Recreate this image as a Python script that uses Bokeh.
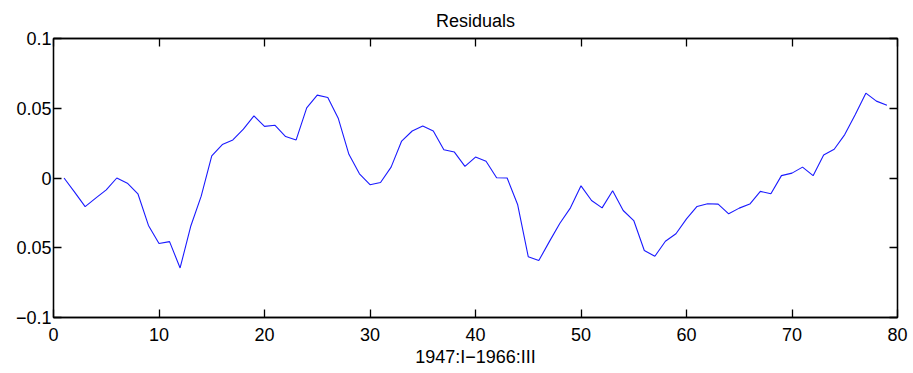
from bokeh.plotting import figure
from bokeh.models import Range1d, LinearAxis, FixedTicker
from bokeh.embed import file_html
from bokeh.resources import INLINE

quarters = list(range(1, 80))
residuals = [
    0.0, -0.0101, -0.0205, -0.0144, -0.0085, 0.0, -0.0037, -0.0113, -0.034, -0.047,
    -0.0456, -0.0645, -0.0348, -0.0130, 0.0158, 0.024, 0.0273, 0.035, 0.0445, 0.037,
    0.0378, 0.0297, 0.0273, 0.0503, 0.0594, 0.0577, 0.0426, 0.017, 0.003, -0.0048,
    -0.0032, 0.0078, 0.0265, 0.0337, 0.0373, 0.0337, 0.0203, 0.0186, 0.0083, 0.015,
    0.012, 0.0002, 0.0, -0.0192, -0.0564, -0.0592, -0.0456, -0.0324, -0.0214, -0.0056,
    -0.0161, -0.0214, -0.0092, -0.0233, -0.0305, -0.052, -0.0561, -0.0453, -0.040, -0.0293,
    -0.0204, -0.0185, -0.0187, -0.0257, -0.0216, -0.0187, -0.0096, -0.0113, 0.0017, 0.0035,
    0.0078, 0.0017, 0.0165, 0.0206, 0.0311, 0.0455, 0.0608, 0.0551, 0.0522,
]
x_ticks = [0, 10, 20, 30, 40, 50, 60, 70, 80]
y_ticks = [-0.1, -0.05, 0.0, 0.05, 0.1]
y_tick_labels = {-0.1: "\u22120.1", -0.05: "0.05", 0.0: "0", 0.05: "0.05", 0.1: "0.1"}
title_text = "Residuals"
x_label = "1947:I\u22121966:III"

FONT = "Liberation Sans"
FS = "18px"

p = figure(width=913, height=373, output_backend="svg", toolbar_location=None,
           x_range=Range1d(0, 80), y_range=Range1d(-0.1, 0.1),
           min_border_left=53, min_border_right=16, min_border_top=38, min_border_bottom=56,
           x_axis_location=None, y_axis_location=None)
p.title.text = title_text
p.title.align = "center"
p.title.text_font = FONT
p.title.text_font_size = FS
p.title.text_font_style = "normal"
p.title.text_color = "black"
p.title.standoff = 15
p.grid.visible = False
p.outline_line_color = "black"
p.outline_line_width = 1.3
p.background_fill_color = "white"
p.border_fill_color = "white"

p.line(quarters, residuals, line_color="#1a1aff", line_width=1.1)

def style(ax, labels=True):
    ax.axis_line_color = "black"
    ax.axis_line_width = 1.3
    ax.major_tick_in = 8
    ax.major_tick_out = 0
    ax.minor_tick_in = 0
    ax.minor_tick_out = 0
    ax.major_tick_line_color = "black"
    ax.major_tick_line_width = 1.3
    ax.major_label_text_font = FONT
    ax.major_label_text_color = "black"
    ax.axis_label_text_font = FONT
    ax.axis_label_text_font_style = "normal"
    ax.axis_label_text_color = "black"
    ax.axis_label_text_font_size = FS
    if labels:
        ax.major_label_text_font_size = FS
    else:
        ax.major_label_text_font_size = "0px"
        ax.major_label_standoff = 0

xb = LinearAxis(ticker=FixedTicker(ticks=x_ticks), axis_label=x_label)
style(xb)
xb.major_label_standoff = 10
xb.axis_label_standoff = 3
p.add_layout(xb, "below")

yl = LinearAxis(ticker=FixedTicker(ticks=y_ticks), major_label_overrides=y_tick_labels)
style(yl)
yl.major_label_standoff = 2
p.add_layout(yl, "left")

xt = LinearAxis(ticker=FixedTicker(ticks=x_ticks))
style(xt, labels=False)
p.add_layout(xt, "above")

yr = LinearAxis(ticker=FixedTicker(ticks=y_ticks))
style(yr, labels=False)
p.add_layout(yr, "right")

open("out.html", "w").write(file_html(p, INLINE))
